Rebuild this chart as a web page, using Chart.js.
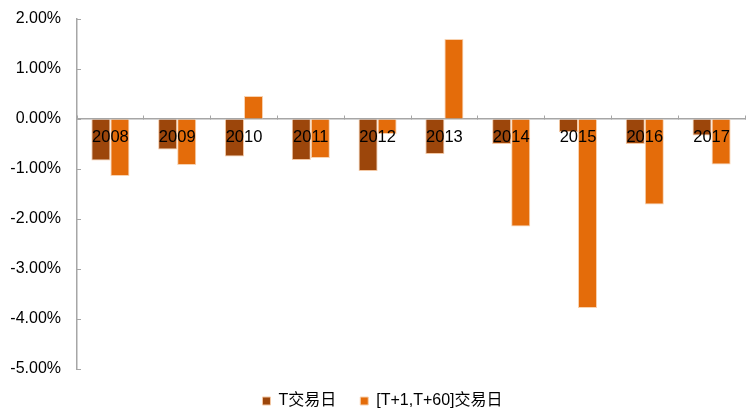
<!DOCTYPE html>
<html>
<head>
<meta charset="utf-8">
<script src="https://cdn.jsdelivr.net/npm/chart.js@4"></script>
<style>
  html, body { margin: 0; padding: 0; background: #fff; }
  #wrap { width: 747px; height: 417px; }
</style>
</head>
<body>
<div id="wrap"><canvas id="c"></canvas></div>
<script>
const years = ["2008", "2009", "2010", "2011", "2012", "2013", "2014", "2015", "2016", "2017"];
const tDay = [-0.83, -0.61, -0.75, -0.82, -1.04, -0.70, -0.50, -0.26, -0.50, -0.33];
const nextDays = [-1.14, -0.92, 0.46, -0.78, -0.30, 1.60, -2.15, -3.78, -1.71, -0.91];
const yTicks = [2, 1, 0, -1, -2, -3, -4, -5];

const font = "'Liberation Sans', Arial, 'Noto Sans CJK SC', sans-serif";

new Chart(document.getElementById("c"), {
  type: "bar",
  data: {
    labels: years,
    datasets: [
      {
        label: "T交易日",
        data: tDay,
        backgroundColor: "#9c460b",
        borderColor: "#f3c7a3",
        borderWidth: 1
      },
      {
        label: "[T+1,T+60]交易日",
        data: nextDays,
        backgroundColor: "#e46c0a",
        borderColor: "#f8d2b0",
        borderWidth: 1
      }
    ]
  },
  options: {
    responsive: true,
    maintainAspectRatio: false,
    animation: false,
    layout: { padding: { top: 19, right: 2, left: 20, bottom: -2 } },
    datasets: {
      bar: { categoryPercentage: 0.57, barPercentage: 1.0 }
    },
    plugins: {
      tooltip: { enabled: false },
      legend: {
        position: "bottom",
        labels: {
          boxWidth: 8,
          boxHeight: 8,
          padding: 24,
          color: "#000",
          font: { family: font, size: 16 }
        }
      }
    },
    scales: {
      x: {
        position: { y: 0 },
        grid: { display: true, drawOnChartArea: false, drawTicks: true, tickLength: -4, color: "#a6a6a6", lineWidth: 1 },
        border: { display: true, color: "#a6a6a6", width: 1.5 },
        ticks: {
          z: 1,
          color: "#000",
          padding: 13,
          autoSkip: false,
          maxRotation: 0,
          font: { family: font, size: 16.5 }
        }
      },
      y: {
        min: -5,
        max: 2,
        afterBuildTicks: (axis) => {
          axis.ticks = yTicks.map(v => ({ value: v }));
        },
        afterFit: (axis) => {
          axis.width = 57;
          axis.paddingTop = 0;
          axis.paddingBottom = 0;
          // labels reach past the axis box on the left, so don't clip them
          axis._computeLabelArea = () => undefined;
        },
        grid: { display: true, drawOnChartArea: false, drawTicks: true, tickLength: -4, color: "#a6a6a6", lineWidth: 1 },
        border: { display: true, color: "#a6a6a6", width: 1.5 },
        ticks: {
          color: "#000",
          padding: 20,
          font: { family: font, size: 16 },
          callback: (v) => v.toFixed(2) + "%"
        }
      }
    }
  }
});
</script>
</body>
</html>
